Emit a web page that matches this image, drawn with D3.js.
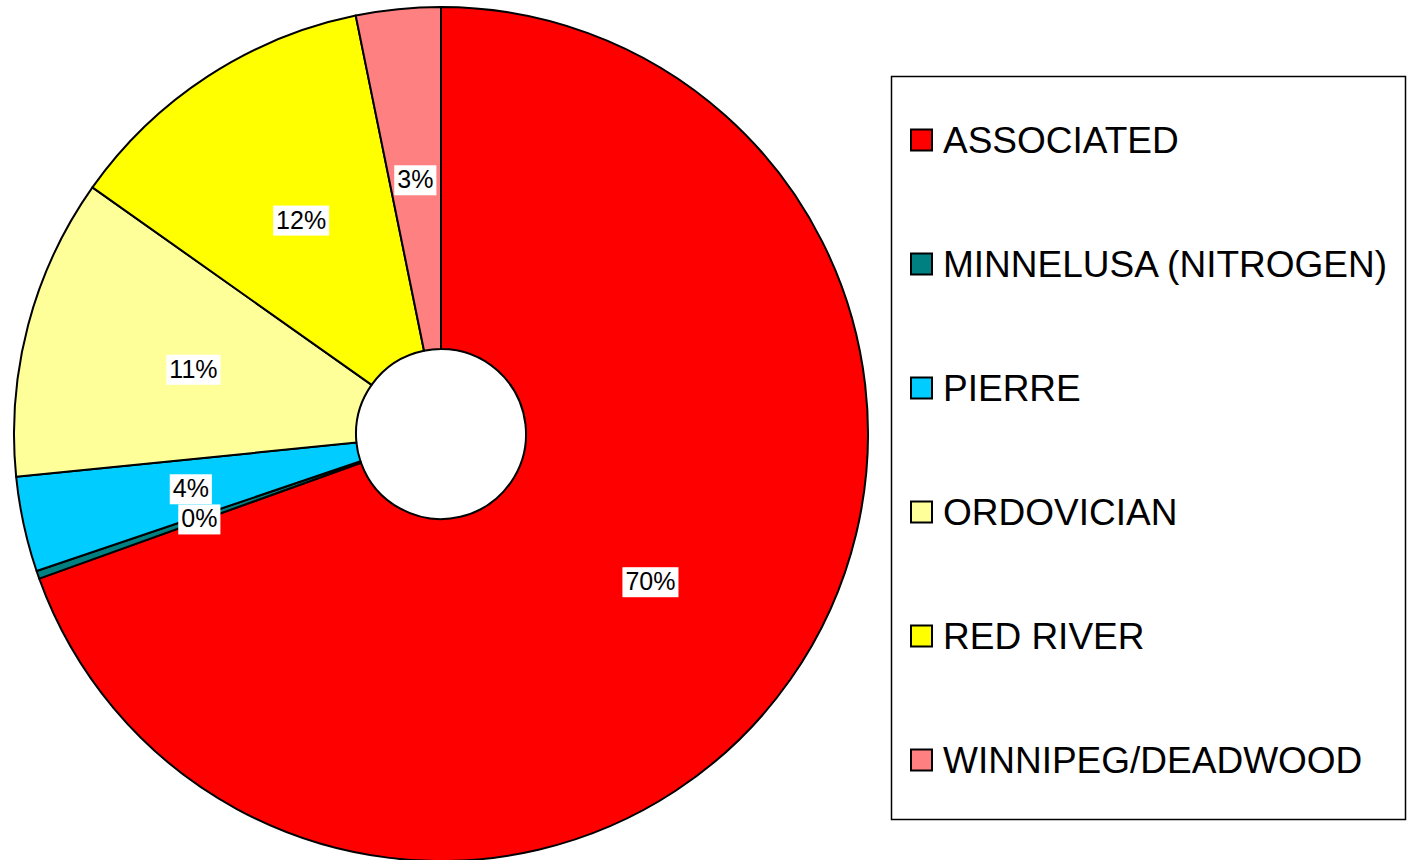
<!DOCTYPE html>
<html><head><meta charset="utf-8">
<script src="https://cdn.jsdelivr.net/npm/d3@7"></script>
<style>body{margin:0;background:#fff;}svg{display:block;}</style>
</head><body>
<svg id="c" width="1410" height="860"></svg>
<script>
const categories = ["ASSOCIATED","MINNELUSA (NITROGEN)","PIERRE","ORDOVICIAN","RED RIVER","WINNIPEG/DEADWOOD"];
const values = [69.5, 0.3, 3.6, 11.4, 12.0, 3.2];
const labels = ["70%","0%","4%","11%","12%","3%"];
const colors = ["#FF0000","#008080","#00CCFF","#FFFF99","#FFFF00","#FF8080"];

const svg = d3.select("#c");
const cx = 441, cy = 434, R = 427, r0 = 85;
const data = categories.map((c,i)=>({c, v: values[i], l: labels[i], col: colors[i]}));
const pie = d3.pie().sort(null).value(d=>d.v);
const arc = d3.arc().innerRadius(r0).outerRadius(R);
const labelArc = d3.arc().innerRadius((r0+R)/2).outerRadius((r0+R)/2);
const arcs = pie(data);
const g = svg.append("g").attr("transform",`translate(${cx},${cy})`);
g.selectAll("path").data(arcs).join("path")
  .attr("d",arc).attr("fill",d=>d.data.col)
  .attr("stroke","#000").attr("stroke-width",2).attr("stroke-linejoin","round");

const lg = g.append("g");
arcs.forEach(a=>{
  const [x,y] = labelArc.centroid(a);
  const t = lg.append("text").attr("x",x).attr("y",y)
    .attr("text-anchor","middle").attr("dominant-baseline","central")
    .attr("font-family","Liberation Sans, Arial, sans-serif").attr("font-size",25)
    .text(a.data.l);
  const b = t.node().getBBox();
  lg.insert("rect","text:last-child").attr("x",b.x-3).attr("y",b.y).attr("width",b.width+6).attr("height",b.height+2).attr("fill","#fff");
});
lg.selectAll("text").raise();

// legend
const leg = svg.append("g");
leg.append("rect").attr("x",891.5).attr("y",76.5).attr("width",514).attr("height",743)
  .attr("fill","#fff").attr("stroke","#000").attr("stroke-width",1.5);
const ly = d3.scalePoint().domain(categories).range([140,760]);
categories.forEach((c,i)=>{
  const y = ly(c);
  leg.append("rect").attr("x",911).attr("y",y-10.5).attr("width",21).attr("height",21)
    .attr("fill",colors[i]).attr("stroke","#000").attr("stroke-width",2);
  leg.append("text").attr("x",943).attr("y",y).attr("dominant-baseline","central")
    .attr("font-family","Liberation Sans, Arial, sans-serif").attr("font-size",37)
    .attr("fill","#000").text(c);
});
</script>
</body></html>
